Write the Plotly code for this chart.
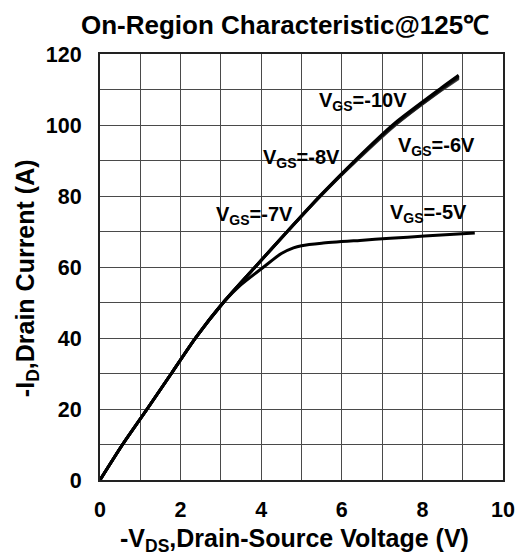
import plotly.graph_objects as go

# V_GS = -5V curve (saturating)
vds_5 = [0, 0.56, 1.17, 1.77, 2.37, 3.06, 3.5, 4.06, 4.5, 4.8, 5.0, 5.5, 6.45, 7.2, 8.05, 9.3]
id_5 = [0, 10, 20, 30, 40, 50, 55, 60, 63.8, 65.4, 66.0, 66.7, 67.5, 68.1, 68.7, 69.6]

# V_GS = -6V, -7V, -8V, -10V curves (nearly overlapping)
vds_hi = [0, 0.56, 1.17, 1.77, 2.37, 3.06, 3.85, 4.65, 5.47, 6.35, 7.3, 8.45, 8.9]
id_6 = [0, 10, 20, 30, 40, 50, 60, 70, 80, 89.8, 99.7, 109.6, 113.1]
id_7 = [0, 10, 20, 30, 40, 50, 60, 70, 80, 90, 99.9, 109.8, 113.4]
id_8 = [0, 10, 20, 30, 40, 50, 60, 70, 80, 90, 100.1, 110.0, 113.7]
id_10 = [0, 10, 20, 30, 40, 50, 60, 70.1, 80.2, 90.3, 100.4, 110.3, 114.0]

x_ticks = [0, 2, 4, 6, 8, 10]
y_ticks = [0, 20, 40, 60, 80, 100, 120]

labels = ["V<sub>GS</sub>=-10V", "V<sub>GS</sub>=-8V", "V<sub>GS</sub>=-7V",
          "V<sub>GS</sub>=-6V", "V<sub>GS</sub>=-5V"]
label_x = [6.52, 5.0, 3.84, 8.36, 8.16]
label_y = [106.5, 90.5, 74.6, 94, 75.2]

FONT = "Liberation Sans, Arial, sans-serif"

fig = go.Figure()
for ys, col in [(id_6, "#444444"), (id_7, "#222222"), (id_8, "#111111"), (id_10, "#000000")]:
    fig.add_trace(go.Scatter(x=vds_hi, y=ys, mode="lines",
                             line=dict(color=col, width=2.9, shape="spline", smoothing=0.6),
                             showlegend=False, hoverinfo="skip"))
fig.add_trace(go.Scatter(x=vds_5, y=id_5, mode="lines",
                         line=dict(color="#000000", width=3, shape="spline", smoothing=0.6),
                         showlegend=False, hoverinfo="skip"))

for t, lx, ly in zip(labels, label_x, label_y):
    fig.add_annotation(x=lx, y=ly, xref="x", yref="y", text=t, showarrow=False,
                       font=dict(family=FONT, size=20, color="black", weight="bold"),
                       xanchor="center", yanchor="middle")

# axis titles
fig.add_annotation(x=0.482, y=-0.142, xref="paper", yref="paper",
                   text="-V<sub>DS</sub>,Drain-Source Voltage (V)", showarrow=False,
                   font=dict(family=FONT, size=25, color="black", weight="bold"),
                   xanchor="center", yanchor="middle")
fig.add_annotation(x=-0.181, y=0.474, xref="paper", yref="paper",
                   text="-I<sub>D</sub>,Drain Current (A)", showarrow=False, textangle=-90,
                   font=dict(family=FONT, size=25, color="black", weight="bold"),
                   xanchor="center", yanchor="middle")

axis_common = dict(showgrid=True, gridcolor="#4a4a4a", gridwidth=1,
                   showline=True, linecolor="#222222", linewidth=2, mirror=True,
                   zeroline=False, ticks="",
                   tickfont=dict(family=FONT, size=21.5, color="black", weight="bold"))

fig.update_xaxes(range=[0, 10], tickvals=x_ticks,
                 minor=dict(dtick=1, showgrid=True, gridcolor="#4a4a4a", gridwidth=1),
                 ticklabelstandoff=9, **axis_common)
fig.update_yaxes(range=[0, 120], tickvals=y_ticks,
                 minor=dict(dtick=10, showgrid=True, gridcolor="#4a4a4a", gridwidth=1),
                 ticklabelstandoff=12, **axis_common)

fig.update_layout(
    width=527, height=556,
    margin=dict(l=100, r=13, t=54, b=76),
    paper_bgcolor="white", plot_bgcolor="white",
    title=dict(text="On-Region Characteristic@125℃", x=0.541, xanchor="center",
               y=1 - 25 / 556, yref="container", yanchor="middle",
               font=dict(family=FONT, size=26, color="black", weight="bold")),
)

fig.write_html("out.html", config={"displayModeBar": False},
               post_script="document.body.style.margin='0';document.body.style.padding='0';")
